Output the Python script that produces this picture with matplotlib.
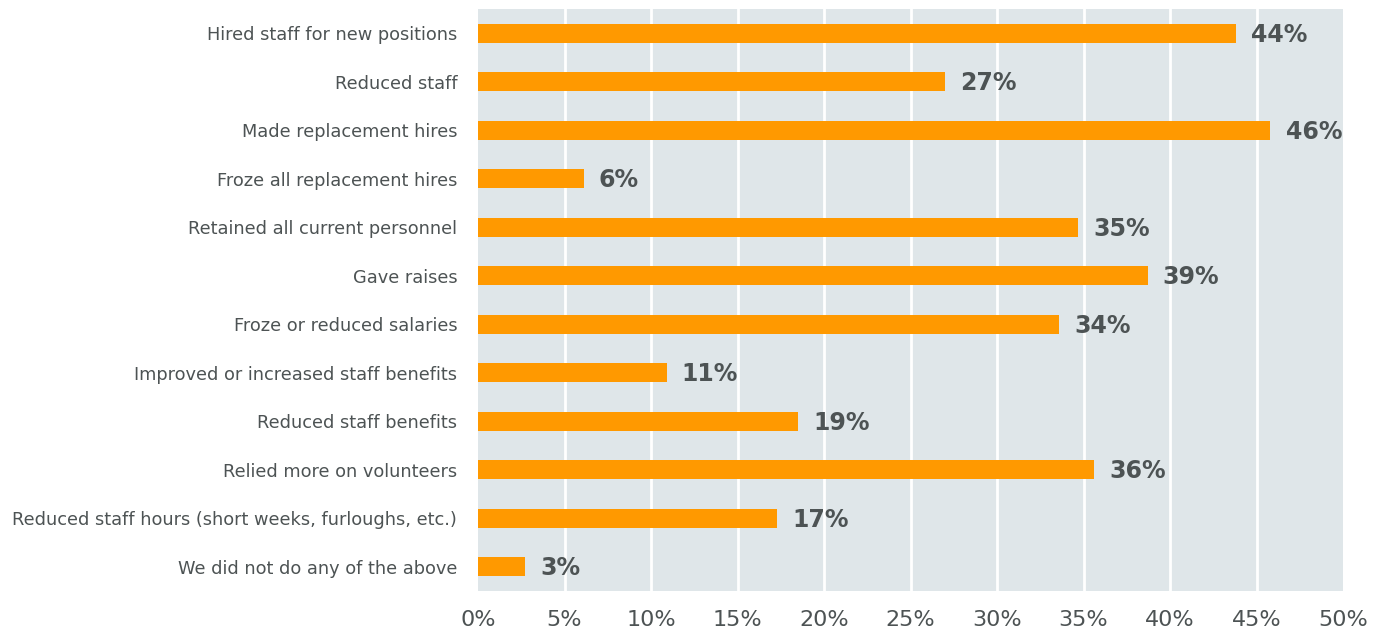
import matplotlib
matplotlib.use("Agg")
import matplotlib.pyplot as plt
from matplotlib.ticker import FuncFormatter

categories = [
    "Hired staff for new positions",
    "Reduced staff",
    "Made replacement hires",
    "Froze all replacement hires",
    "Retained all current personnel",
    "Gave raises",
    "Froze or reduced salaries",
    "Improved or increased staff benefits",
    "Reduced staff benefits",
    "Relied more on volunteers",
    "Reduced staff hours (short weeks, furloughs, etc.)",
    "We did not do any of the above",
]
values = [43.8, 27.0, 45.8, 6.1, 34.7, 38.7, 33.6, 10.9, 18.5, 35.6, 17.3, 2.7]
labels = ["44%", "27%", "46%", "6%", "35%", "39%", "34%", "11%", "19%", "36%", "17%", "3%"]
xticks = [0, 5, 10, 15, 20, 25, 30, 35, 40, 45, 50]

text_color = "#4d5354"
fig = plt.figure(figsize=(13.87, 6.33), dpi=100)
ax = fig.add_axes([478/1387, 1-591/633, (1343-478)/1387, (591-9)/633])
ax.set_facecolor("#dfe6e9")

ypos = list(range(len(categories)))
ax.barh(ypos, values, height=0.4, color="#ff9900", zorder=3)
for y, v, lab in zip(ypos, values, labels):
    ax.annotate(lab, (v, y), xytext=(11, -1), textcoords="offset points",
                ha="left", va="center", fontsize=17, fontweight="bold",
                color=text_color, zorder=4)

ax.set_xlim(0, 50)
ax.set_ylim(len(categories)-0.5, -0.5)
ax.set_yticks(ypos)
ax.set_yticklabels(categories, fontsize=12.8, color=text_color)
ax.set_xticks(xticks)
ax.xaxis.set_major_formatter(FuncFormatter(lambda x, p: f"{int(x)}%"))
ax.tick_params(axis="x", length=0, labelsize=16, labelcolor=text_color, pad=14)
ax.tick_params(axis="y", length=0, pad=15)
ax.grid(axis="x", color="white", linewidth=2, zorder=1)
gl = ax.get_xgridlines()
gl[0].set_visible(False)
gl[-1].set_visible(False)
for s in ax.spines.values():
    s.set_visible(False)

fig.savefig("out.png", dpi=100)
